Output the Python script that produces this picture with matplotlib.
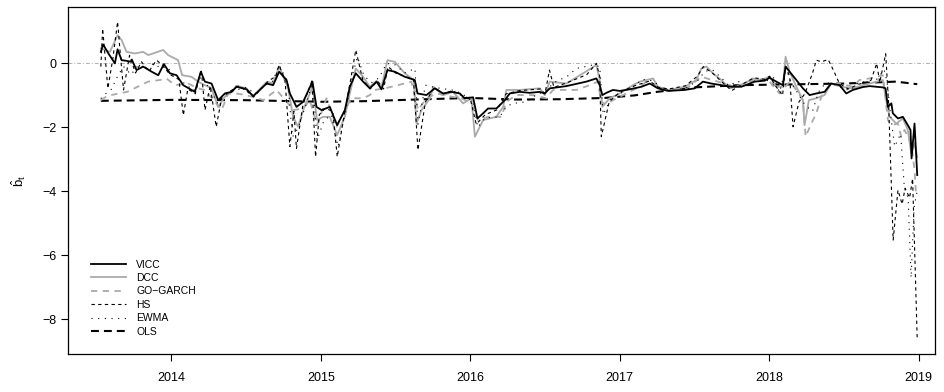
import matplotlib
matplotlib.use('Agg')
import matplotlib.pyplot as plt

plt.rcParams['font.family'] = ['Liberation Sans', 'DejaVu Sans']
plt.rcParams['mathtext.fontset'] = 'custom'
plt.rcParams['mathtext.rm'] = 'Liberation Sans'
plt.rcParams['mathtext.it'] = 'Liberation Sans'

# значения (десятичные годы)
vicc_t = [2013.528, 2013.543, 2013.580, 2013.622, 2013.640, 2013.667, 2013.700, 2013.729, 2013.735,
          2013.767, 2013.811, 2013.868, 2013.912, 2013.950, 2013.990, 2014.035, 2014.079, 2014.157,
          2014.197, 2014.224, 2014.269, 2014.313, 2014.358, 2014.403, 2014.436, 2014.503, 2014.547,
          2014.592, 2014.637, 2014.681, 2014.721, 2014.771, 2014.793, 2014.837, 2014.882, 2014.944,
          2014.971, 2015.005, 2015.060, 2015.109, 2015.161, 2015.194, 2015.234, 2015.283, 2015.328,
          2015.373, 2015.406, 2015.446, 2015.495, 2015.562, 2015.629, 2015.647, 2015.707, 2015.763,
          2015.818, 2015.874, 2015.930, 2015.963, 2016.019, 2016.048, 2016.086, 2016.119, 2016.175,
          2016.231, 2016.264, 2016.331, 2016.398, 2016.465, 2016.498, 2016.532, 2016.643, 2016.777,
          2016.844, 2016.866, 2016.884, 2016.911, 2016.955, 2017.000, 2017.067, 2017.146, 2017.201,
          2017.256, 2017.323, 2017.435, 2017.502, 2017.557, 2017.613, 2017.680, 2017.747, 2017.814,
          2017.903, 2017.970, 2018.003, 2018.048, 2018.092, 2018.110, 2018.137, 2018.182, 2018.226,
          2018.271, 2018.316, 2018.371, 2018.415, 2018.472, 2018.516, 2018.560, 2018.627, 2018.672,
          2018.761, 2018.779, 2018.795, 2018.818, 2018.828, 2018.862, 2018.895, 2018.928, 2018.946,
          2018.953, 2018.973, 2018.991]
vicc_v = [0.36, 0.59, 0.30, 0.00, 0.44, 0.10, 0.08, 0.05, 0.12,
          -0.21, -0.10, -0.26, -0.37, -0.02, -0.31, -0.37, -0.68, -0.89,
          -0.26, -0.57, -0.63, -1.15, -0.94, -0.89, -0.73, -0.81, -1.02,
          -0.83, -0.63, -0.68, -0.26, -0.52, -0.94, -1.36, -1.20, -0.57,
          -1.36, -1.46, -1.36, -1.93, -1.46, -0.73, -0.31, -0.57, -0.78,
          -0.57, -0.81, -0.21, -0.26, -0.42, -0.52, -0.94, -0.99, -0.78,
          -0.94, -0.89, -0.94, -1.09, -1.06, -1.72, -1.56, -1.41, -1.41,
          -1.15, -0.94, -0.89, -0.92, -0.89, -0.94, -0.78, -0.71, -0.57,
          -0.47, -0.68, -0.99, -0.92, -0.83, -0.86, -0.81, -0.73, -0.63,
          -0.78, -0.86, -0.83, -0.78, -0.57, -0.63, -0.68, -0.73, -0.73,
          -0.57, -0.54, -0.45, -0.57, -0.68, -0.10, -0.26, -0.52, -0.78,
          -0.99, -0.94, -0.89, -0.63, -0.68, -0.94, -0.83, -0.74, -0.71,
          -0.75, -0.78, -1.36, -1.25, -1.56, -1.72, -1.67, -1.93, -2.08,
          -2.97, -1.88, -3.49]

dcc_t = [2013.528, 2013.589, 2013.640, 2013.667, 2013.700, 2013.756, 2013.811, 2013.845, 2013.890,
         2013.945, 2013.978, 2014.045, 2014.072, 2014.135, 2014.179, 2014.224, 2014.269, 2014.313,
         2014.358, 2014.403, 2014.436, 2014.503, 2014.547, 2014.592, 2014.637, 2014.681, 2014.721,
         2014.781, 2014.815, 2014.848, 2014.882, 2014.944, 2014.975, 2015.015, 2015.060, 2015.109,
         2015.161, 2015.194, 2015.234, 2015.283, 2015.328, 2015.373, 2015.406, 2015.446, 2015.495,
         2015.562, 2015.622, 2015.640, 2015.674, 2015.730, 2015.752, 2015.818, 2015.885, 2015.952,
         2016.008, 2016.031, 2016.086, 2016.175, 2016.220, 2016.242, 2016.331, 2016.465, 2016.498,
         2016.532, 2016.643, 2016.755, 2016.844, 2016.866, 2016.884, 2016.933, 2017.000, 2017.089,
         2017.134, 2017.223, 2017.256, 2017.323, 2017.435, 2017.513, 2017.546, 2017.580, 2017.624,
         2017.680, 2017.736, 2017.814, 2017.892, 2017.948, 2018.003, 2018.048, 2018.092, 2018.110,
         2018.137, 2018.182, 2018.226, 2018.237, 2018.266, 2018.316, 2018.371, 2018.415, 2018.482,
         2018.560, 2018.627, 2018.672, 2018.761, 2018.783, 2018.806, 2018.851, 2018.895, 2018.928,
         2018.951, 2018.973, 2018.991]
dcc_v = [0.47, 0.36, 0.88, 0.73, 0.36, 0.31, 0.36, 0.26, 0.33,
         0.42, 0.26, 0.10, -0.37, -0.42, -0.57, -0.68, -0.78, -1.36,
         -1.04, -0.89, -0.70, -0.78, -1.05, -0.80, -0.58, -0.62, -0.10,
         -0.78, -1.67, -1.98, -1.46, -0.73, -1.77, -1.67, -1.67, -2.24,
         -1.67, -0.94, -0.16, -0.42, -0.73, -0.55, -0.75, 0.10, 0.05,
         -0.31, -0.52, -1.88, -1.46, -1.09, -0.73, -0.99, -0.89, -1.25,
         -1.09, -2.29, -1.77, -1.67, -1.36, -0.83, -0.83, -0.78, -0.99,
         -0.57, -0.63, -0.31, -0.05, -0.52, -1.36, -1.09, -0.94, -0.68,
         -0.57, -0.47, -0.73, -0.83, -0.73, -0.52, -0.16, -0.10, -0.31,
         -0.52, -0.78, -0.68, -0.47, -0.52, -0.42, -0.73, -0.73, 0.21,
         -0.26, -0.73, -1.15, -1.93, -1.15, -1.09, -0.99, -0.63, -0.73,
         -0.78, -0.68, -0.63, -0.52, -1.15, -1.67, -1.88, -1.72, -2.08,
         -2.81, -2.50, -2.92]

gogarch_t = [2013.528, 2013.570, 2013.628, 2013.704, 2013.845, 2013.923, 2013.967, 2014.023, 2014.112,
             2014.179, 2014.224, 2014.291, 2014.336, 2014.380, 2014.450, 2014.550, 2014.615, 2014.703,
             2014.781, 2014.815, 2014.882, 2014.926, 2014.975, 2015.038, 2015.105, 2015.161, 2015.205,
             2015.283, 2015.328, 2015.361, 2015.428, 2015.517, 2015.606, 2015.651, 2015.707, 2015.774,
             2015.874, 2015.941, 2016.008, 2016.052, 2016.119, 2016.208, 2016.242, 2016.309, 2016.420,
             2016.509, 2016.554, 2016.710, 2016.799, 2016.855, 2016.877, 2016.933, 2017.022, 2017.134,
             2017.178, 2017.323, 2017.435, 2017.546, 2017.657, 2017.769, 2017.903, 2017.992, 2018.003,
             2018.070, 2018.137, 2018.182, 2018.226, 2018.244, 2018.282, 2018.316, 2018.349, 2018.405,
             2018.472, 2018.560, 2018.604, 2018.672, 2018.761, 2018.795, 2018.818, 2018.862, 2018.884,
             2018.906, 2018.951, 2018.973, 2018.984]
gogarch_v = [-1.15, -1.02, -0.96, -0.89, -0.57, -0.52, -0.47, -0.68, -0.63,
             -0.78, -0.83, -1.20, -1.46, -0.94, -0.95, -1.05, -1.15, -0.83,
             -1.25, -1.46, -1.41, -1.15, -1.93, -1.09, -1.98, -1.46, -1.09,
             -1.09, -0.99, -0.83, -0.78, -0.68, -0.57, -1.46, -1.09, -0.94,
             -1.04, -1.09, -1.25, -1.77, -1.67, -1.67, -1.20, -0.99, -0.99,
             -1.09, -0.83, -0.83, -0.68, -0.57, -1.25, -1.20, -0.99, -0.73,
             -0.57, -0.83, -0.83, -0.42, -0.57, -0.73, -0.52, -0.47, -0.57,
             -0.94, -0.57, -0.83, -1.15, -2.29, -1.88, -1.56, -1.04, -0.68,
             -0.63, -0.73, -0.52, -0.47, -0.37, -1.77, -1.93, -1.88, -2.29,
             -2.08, -2.50, -3.33, -4.17]

hs_t = [2013.528, 2013.540, 2013.575, 2013.610, 2013.640, 2013.660, 2013.680, 2013.720, 2013.760,
        2013.800, 2013.850, 2013.900, 2013.940, 2013.990, 2014.050, 2014.080, 2014.110, 2014.160,
        2014.200, 2014.225, 2014.260, 2014.300, 2014.340, 2014.400, 2014.450, 2014.500, 2014.550,
        2014.600, 2014.650, 2014.700, 2014.720, 2014.760, 2014.793, 2014.820, 2014.837, 2014.880,
        2014.940, 2014.965, 2014.990, 2015.030, 2015.080, 2015.110, 2015.160, 2015.200, 2015.234,
        2015.280, 2015.330, 2015.380, 2015.420, 2015.450, 2015.500, 2015.560, 2015.620, 2015.650,
        2015.700, 2015.760, 2015.820, 2015.880, 2015.940, 2016.000, 2016.040, 2016.100, 2016.180,
        2016.240, 2016.330, 2016.470, 2016.500, 2016.530, 2016.560, 2016.650, 2016.780, 2016.844,
        2016.866, 2016.877, 2016.930, 2017.000, 2017.100, 2017.200, 2017.260, 2017.330, 2017.440,
        2017.520, 2017.560, 2017.620, 2017.700, 2017.750, 2017.820, 2017.900, 2017.970, 2018.003,
        2018.050, 2018.090, 2018.110, 2018.137, 2018.160, 2018.200, 2018.240, 2018.290, 2018.316,
        2018.350, 2018.395, 2018.430, 2018.470, 2018.530, 2018.600, 2018.680, 2018.720, 2018.740,
        2018.780, 2018.800, 2018.830, 2018.862, 2018.890, 2018.910, 2018.940, 2018.960, 2018.991]
hs_v = [-0.10, 1.09, -0.78, 0.20, 1.30, 0.20, -0.83, 0.25, -0.30,
        0.05, -0.25, 0.10, -0.05, -0.35, -0.50, -1.62, -0.80, -0.95,
        -0.20, -1.46, -0.70, -1.98, -1.00, -0.85, -0.70, -0.85, -1.05,
        -0.80, -0.55, -0.40, -0.05, -0.50, -2.60, -1.50, -2.66, -1.30,
        -0.55, -2.92, -1.60, -1.40, -1.50, -2.92, -1.50, -0.50, 0.42,
        -0.50, -0.80, -0.55, -0.80, -0.10, -0.30, -0.40, -0.50, -2.71,
        -1.20, -0.75, -0.95, -0.85, -1.00, -1.10, -1.90, -1.60, -1.45,
        -0.95, -0.85, -0.80, -0.95, -0.21, -0.75, -0.60, -0.35, 0.00,
        -0.40, -2.29, -1.20, -0.90, -0.70, -0.55, -0.75, -0.80, -0.70,
        -0.40, -0.10, -0.30, -0.65, -0.85, -0.65, -0.45, -0.50, -0.40,
        -0.75, -1.00, -0.10, -0.40, -1.98, -1.20, -0.94, -0.31, 0.10,
        0.05, 0.12, -0.21, -0.63, -0.80, -0.65, -0.55, 0.00, -0.60,
        0.30, -1.30, -5.52, -3.96, -4.40, -3.90, -4.20, -3.60, -8.62]

ewma_t = [2013.528, 2013.560, 2013.600, 2013.640, 2013.680, 2013.730, 2013.780, 2013.830, 2013.880,
          2013.930, 2013.970, 2014.020, 2014.080, 2014.150, 2014.200, 2014.250, 2014.310, 2014.360,
          2014.420, 2014.500, 2014.560, 2014.620, 2014.680, 2014.720, 2014.780, 2014.810, 2014.850,
          2014.900, 2014.945, 2014.975, 2015.020, 2015.070, 2015.115, 2015.170, 2015.215, 2015.245,
          2015.290, 2015.340, 2015.390, 2015.440, 2015.500, 2015.560, 2015.630, 2015.650, 2015.700,
          2015.760, 2015.830, 2015.900, 2015.960, 2016.020, 2016.050, 2016.100, 2016.197, 2016.242,
          2016.286, 2016.376, 2016.450, 2016.500, 2016.560, 2016.650, 2016.710, 2016.820, 2016.866,
          2016.890, 2016.940, 2017.000, 2017.100, 2017.150, 2017.230, 2017.280, 2017.350, 2017.450,
          2017.520, 2017.570, 2017.620, 2017.680, 2017.730, 2017.790, 2017.850, 2017.920, 2017.980,
          2018.030, 2018.070, 2018.110, 2018.150, 2018.200, 2018.240, 2018.290, 2018.330, 2018.380,
          2018.430, 2018.480, 2018.540, 2018.600, 2018.660, 2018.720, 2018.770, 2018.790, 2018.810,
          2018.840, 2018.880, 2018.905, 2018.930, 2018.950, 2018.970, 2018.990]
ewma_v = [-1.10, -0.95, -0.80, -0.40, -0.10, -0.35, -0.05, -0.20, 0.00,
          -0.15, -0.10, -0.40, -0.60, -0.85, -0.40, -0.75, -1.25, -1.00,
          -0.85, -0.75, -0.95, -0.70, -0.55, -0.05, -0.60, -2.30, -2.00,
          -1.30, -0.60, -2.40, -1.80, -1.60, -2.60, -1.40, -0.30, 0.20,
          -0.40, -0.60, -0.45, 0.00, -0.05, -0.30, -0.16, -1.90, -0.68,
          -0.75, -0.80, -0.85, -1.00, -1.20, -2.00, -1.70, -1.67, -1.35,
          -1.25, -1.20, -0.95, -0.90, -0.60, -0.40, -0.16, -0.05, -0.10,
          -1.60, -1.10, -0.95, -0.70, -0.50, -0.55, -0.80, -0.85, -0.75,
          -0.55, -0.25, -0.20, -0.45, -0.70, -0.55, -0.75, -0.50, -0.55,
          -0.45, -0.90, -0.15, -0.60, -1.00, -1.30, -1.50, -0.90, -0.60,
          -0.65, -0.75, -0.85, -0.60, -0.55, -0.50, -0.20, -0.60, -1.50,
          -2.60, -2.20, -3.90, -4.20, -6.70, -4.50, -4.00]

ols_t = [2013.528, 2014.000, 2014.500, 2015.000, 2015.300, 2015.700, 2016.000, 2016.300, 2016.600,
         2016.900, 2017.100, 2017.250, 2017.500, 2017.800, 2018.100, 2018.500, 2018.850, 2018.991]
ols_v = [-1.17, -1.14, -1.15, -1.20, -1.18, -1.12, -1.08, -1.13, -1.12,
         -1.08, -1.00, -0.89, -0.75, -0.68, -0.66, -0.63, -0.57, -0.65]

years = [2014, 2015, 2016, 2017, 2018, 2019]
yticks = [0, -2, -4, -6, -8]


def main():
    fig = plt.figure(figsize=(9.44, 3.92), dpi=100)
    ax = fig.add_axes([0.072, 0.097, 0.918, 0.885])

    ax.axhline(0, color='#b0b0b0', lw=0.7, dashes=(4, 2, 1, 2), zorder=1)

    ax.plot(ols_t, ols_v, color='black', lw=1.5, dashes=(3.8, 2.4), zorder=2)
    ax.plot(gogarch_t, gogarch_v, color='#aaaaaa', lw=1.3, dashes=(3.5, 3.0), zorder=3)
    ax.plot(dcc_t, dcc_v, color='#aaaaaa', lw=1.3, zorder=4)
    ax.plot(hs_t, hs_v, color='black', lw=0.8, dashes=(3, 3), zorder=5)
    ax.plot(ewma_t, ewma_v, color='black', lw=0.8, dashes=(1, 5), zorder=5)
    ax.plot(vicc_t, vicc_v, color='black', lw=1.3, zorder=6)

    # легенда отдельно, в порядке оригинала
    handles = [
        plt.Line2D([], [], color='black', lw=1.3),
        plt.Line2D([], [], color='#aaaaaa', lw=1.3),
        plt.Line2D([], [], color='#aaaaaa', lw=1.3, dashes=(3.5, 3.0)),
        plt.Line2D([], [], color='black', lw=0.8, dashes=(3, 3)),
        plt.Line2D([], [], color='black', lw=0.8, dashes=(1, 5)),
        plt.Line2D([], [], color='black', lw=1.5, dashes=(3.8, 2.4)),
    ]
    labels = ['VICC', 'DCC', 'GO\u2212GARCH', 'HS', 'EWMA', 'OLS']
    ax.legend(handles, labels, loc='upper left', bbox_to_anchor=(0.027, 0.272),
              frameon=False, fontsize=7.5, handlelength=3.3, handletextpad=1.0,
              labelspacing=0.33, borderpad=0, borderaxespad=0)

    ax.set_xlim(2013.308, 2019.107)
    ax.set_ylim(-9.08, 1.76)
    ax.set_xticks(years)
    ax.set_xticklabels([str(y) for y in years])
    ax.set_yticks(yticks)
    ax.set_yticklabels([str(v).replace('-', '\u2212') for v in yticks])
    ax.tick_params(labelsize=9, length=5, width=0.8, direction='out')
    ax.tick_params(axis='x', pad=8)
    for s in ax.spines.values():
        s.set_linewidth(0.9)

    ax.set_ylabel(r'$\hat{\mathrm{b}}_\mathrm{t}$', fontsize=9.5, labelpad=10)

    fig.savefig('out.png', dpi=100)


if __name__ == "__main__":
    main()
